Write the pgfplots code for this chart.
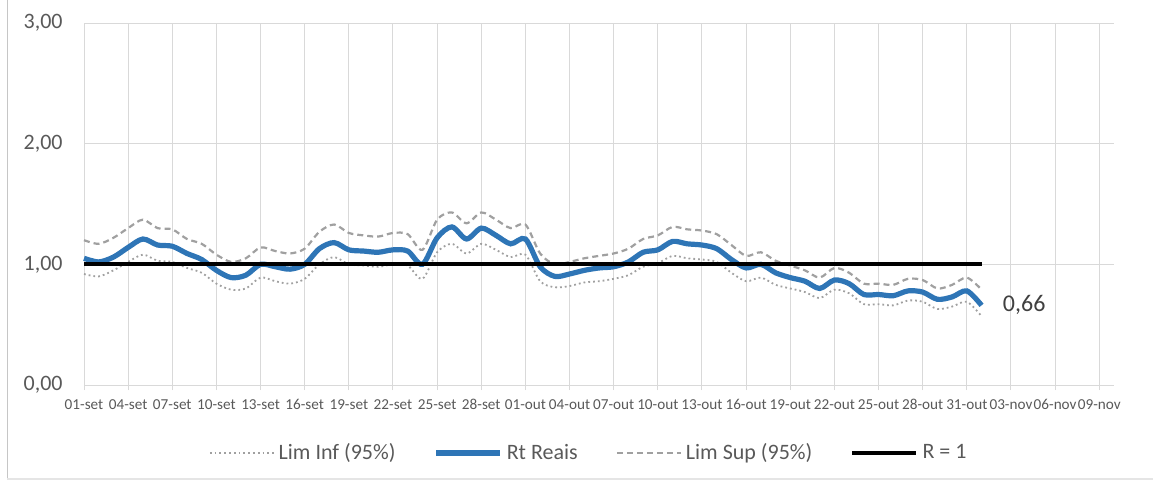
\documentclass[border=0pt]{standalone}
\usepackage{fontspec}
\setmainfont{Carlito}
\usepackage{pgfplots}
\usepackage{pgfplotstable}
\pgfplotsset{compat=1.18}
\definecolor{rtblue}{RGB}{46,117,182}
\definecolor{gridgray}{RGB}{217,217,217}
\definecolor{limgray}{RGB}{160,160,160}
\definecolor{txtgray}{RGB}{89,89,89}

\pgfplotstableread{
d inf rt sup
0 0.92 1.05 1.20
1 0.90 1.02 1.17
2 0.95 1.06 1.22
3 1.02 1.14 1.30
4 1.08 1.21 1.37
5 1.03 1.16 1.30
6 1.02 1.15 1.29
7 0.97 1.09 1.21
8 0.93 1.04 1.17
9 0.84 0.95 1.08
10 0.79 0.89 1.02
11 0.80 0.91 1.05
12 0.89 1.00 1.14
13 0.86 0.98 1.11
14 0.84 0.96 1.09
15 0.88 1.00 1.13
16 1.00 1.13 1.27
17 1.06 1.18 1.33
18 1.00 1.12 1.26
19 0.99 1.11 1.24
20 0.98 1.10 1.23
21 1.00 1.12 1.26
22 0.99 1.11 1.25
23 0.88 1.00 1.12
24 1.10 1.22 1.37
25 1.17 1.31 1.43
26 1.09 1.21 1.34
27 1.17 1.30 1.43
28 1.12 1.24 1.37
29 1.06 1.17 1.30
30 1.08 1.21 1.33
31 0.86 0.98 1.09
32 0.81 0.90 1.00
33 0.82 0.92 1.02
34 0.85 0.95 1.05
35 0.86 0.97 1.07
36 0.88 0.98 1.09
37 0.91 1.02 1.13
38 0.98 1.10 1.21
39 1.01 1.12 1.24
40 1.07 1.19 1.31
41 1.05 1.17 1.29
42 1.04 1.16 1.28
43 1.02 1.13 1.25
44 0.93 1.04 1.16
45 0.86 0.97 1.07
46 0.89 1.00 1.10
47 0.83 0.93 1.03
48 0.80 0.89 0.99
49 0.77 0.86 0.95
50 0.72 0.80 0.89
51 0.79 0.87 0.97
52 0.76 0.84 0.93
53 0.67 0.75 0.84
54 0.67 0.75 0.84
55 0.66 0.74 0.83
56 0.70 0.78 0.88
57 0.69 0.77 0.87
58 0.63 0.71 0.80
59 0.65 0.73 0.83
60 0.69 0.78 0.89
61 0.57 0.66 0.79
}\rtdata

\begin{document}
\begin{tikzpicture}
\useasboundingbox (0,0) rectangle (576.5pt,241.5pt);
\draw[gray!45, line width=0.6pt] (3.6pt,2pt) -- (3.6pt,241.5pt);
\draw[gray!20, line width=0.6pt] (3.6pt,2pt) -- (576.5pt,2pt);
\begin{axis}[
  at={(42pt,49pt)}, anchor=south west,
  scale only axis, width=515pt, height=181pt,
  xmin=0, xmax=70, ymin=0, ymax=3,
  axis line style={draw=none},
  grid=major,
  grid style={gridgray, line width=0.5pt},
  xtick={0,3,...,69},
  xticklabels={01-set,04-set,07-set,10-set,13-set,16-set,19-set,22-set,25-set,28-set,01-out,04-out,07-out,10-out,13-out,16-out,19-out,22-out,25-out,28-out,31-out,03-nov,06-nov,09-nov},
  ytick={0,1,2,3},
  yticklabels={{0,00},{1,00},{2,00},{3,00}},
  xtick pos=left, ytick pos=left,
  tick align=outside,
  major tick length=2.5pt,
  xtick style={gridgray, line width=0.5pt},
  ytick style={draw=none},
  xticklabel style={font=\fontsize{7.6}{9}\selectfont, text=txtgray, inner sep=0pt, yshift=-4.5pt},
  yticklabel style={font=\fontsize{11}{12}\selectfont, text=txtgray, inner sep=0pt, xshift=-8pt},
  clip=false,
  legend columns=4,
  legend cell align=left,
  legend image code/.code={\draw[#1] (0pt,0pt) -- (32pt,0pt);},
  legend style={draw=none, fill=none, at={(axis description cs:0.491,-0.188)}, anchor=center,
    font=\fontsize{11}{13}\selectfont, text=txtgray,
    /tikz/every even column/.append style={column sep=17pt}},
]
\addplot[limgray, line width=0.9pt, dash pattern=on 0.9pt off 1.5pt, smooth, tension=0.5] table[x=d, y=inf] {\rtdata};
\addlegendentry{Lim Inf (95\%)}
\addplot[rtblue, line width=2.6pt, smooth, tension=0.5] table[x=d, y=rt] {\rtdata};
\addlegendentry{Rt Reais}
\addplot[limgray, line width=1.1pt, dash pattern=on 3pt off 2pt, smooth, tension=0.5] table[x=d, y=sup] {\rtdata};
\addlegendentry{Lim Sup (95\%)}
\addplot[black, line width=2.1pt] coordinates {(0,1) (61,1)};
\addlegendentry{R = 1}
\node[anchor=west, inner sep=0pt, xshift=10.5pt, font=\fontsize{12}{14}\selectfont, text=black!75] at (axis cs:61,0.66) {0,66};
\end{axis}
\end{tikzpicture}
\end{document}
